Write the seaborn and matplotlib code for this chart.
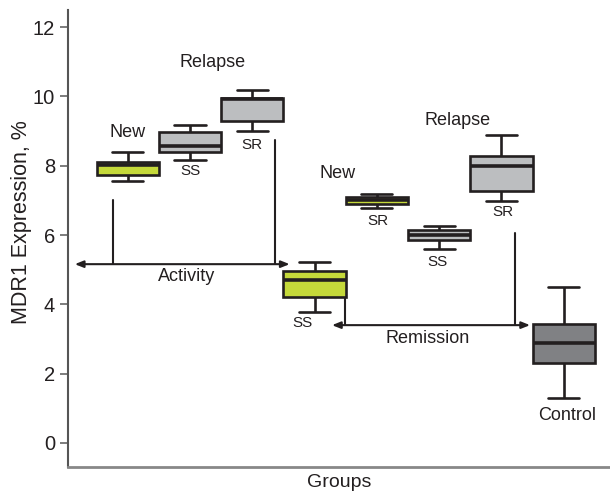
import numpy as np
import pandas as pd
import matplotlib
matplotlib.use("Agg")
import matplotlib.pyplot as plt
import seaborn as sns

# groups, left to right
groups = ["New", "Relapse SS", "Relapse SR", "Remission SS",
          "Remission New SR", "Remission Relapse SS", "Remission Relapse SR", "Control"]
# five-number summaries: min, q1, median, q3, max
lows    = [7.57, 8.18, 9.00, 3.79, 6.77, 5.60, 6.98, 1.30]
q1s     = [7.73, 8.40, 9.30, 4.20, 6.89, 5.86, 7.27, 2.30]
medians = [8.03, 8.58, 9.92, 4.69, 7.00, 6.00, 8.00, 2.88]
q3s     = [8.10, 8.98, 9.96, 4.97, 7.10, 6.14, 8.29, 3.42]
highs   = [8.40, 9.18, 10.20, 5.21, 7.18, 6.27, 8.88, 4.49]

green = "#c5d93a"
light = "#bcbec0"
dark = "#808184"
colors = [green, light, light, green, green, light, light, dark]
ink = "#231f20"

# five points per group give exactly these quartiles
rows = []
for g, a, b, c, d, e in zip(groups, lows, q1s, medians, q3s, highs):
    for v in (a, b, c, d, e):
        rows.append({"group": g, "value": v})
df = pd.DataFrame(rows)

sns.set_style("white")
plt.rcParams['font.family'] = ['Liberation Sans', 'DejaVu Sans']

fig = plt.figure(figsize=(6.1, 4.94), dpi=100)
ax = fig.add_axes([0.111, 0.055, 0.889, 0.925])

sns.boxplot(data=df, x="group", y="value", hue="group", order=groups,
            palette=dict(zip(groups, colors)), legend=False, width=1.0,
            saturation=1, whis=np.inf, linewidth=1.9, linecolor=ink,
            medianprops=dict(color=ink, linewidth=2.6), ax=ax)

ax.set_xlim(-0.964, 7.744)
ax.set_ylim(-0.69, 12.5)
ax.set_yticks([0, 2, 4, 6, 8, 10, 12])
ax.set_xticks([])
ax.tick_params(axis="y", left=True, length=6, width=1.2, color="#666666",
               labelsize=14.5, labelcolor=ink, pad=3)
ax.set_xlabel("Groups", fontsize=14, color=ink, labelpad=5)
ax.set_ylabel("MDR1 Expression, %", fontsize=15.5, color=ink)
ax.yaxis.set_label_coords(-0.066, 0.536)
for s in ["top", "right"]:
    ax.spines[s].set_visible(False)
ax.spines["left"].set_color("#555555")
ax.spines["left"].set_linewidth(1.5)
ax.spines["bottom"].set_color("#888888")
ax.spines["bottom"].set_linewidth(2)

# group labels
labels = [
    ("New", 0.0, 8.97, 13), ("Relapse", 1.37, 10.99, 13),
    ("SS", 1.0, 7.85, 11), ("SR", 2.0, 8.6, 11),
    ("New", 3.37, 7.79, 13), ("SR", 4.02, 6.4, 11),
    ("SS", 4.98, 5.22, 11), ("Relapse", 5.30, 9.32, 13),
    ("SR", 6.03, 6.66, 11), ("SS", 2.80, 3.46, 11),
    ("Control", 7.05, 0.78, 13), ("Activity", 0.95, 4.79, 13),
    ("Remission", 4.82, 3.0, 13),
]
for t, x, y, fs in labels:
    ax.text(x, y, t, ha="center", va="center", fontsize=fs, color=ink)

# bracket arrows
arrow = dict(arrowstyle="<|-|>,head_length=0.5,head_width=0.2", color=ink,
             lw=1.5, shrinkA=0, shrinkB=0)
ax.annotate("", xy=(-0.85, 5.16), xytext=(2.60, 5.16), arrowprops=arrow)
ax.plot([-0.24, -0.24], [7.0, 5.16], color=ink, lw=1.5)
ax.plot([2.36, 2.36], [8.75, 5.16], color=ink, lw=1.5)
ax.annotate("", xy=(3.28, 3.40), xytext=(6.46, 3.40), arrowprops=arrow)
ax.plot([3.49, 3.49], [4.18, 3.40], color=ink, lw=1.5)
ax.plot([6.22, 6.22], [6.05, 3.40], color=ink, lw=1.5)

fig.savefig("out.png", dpi=100)
